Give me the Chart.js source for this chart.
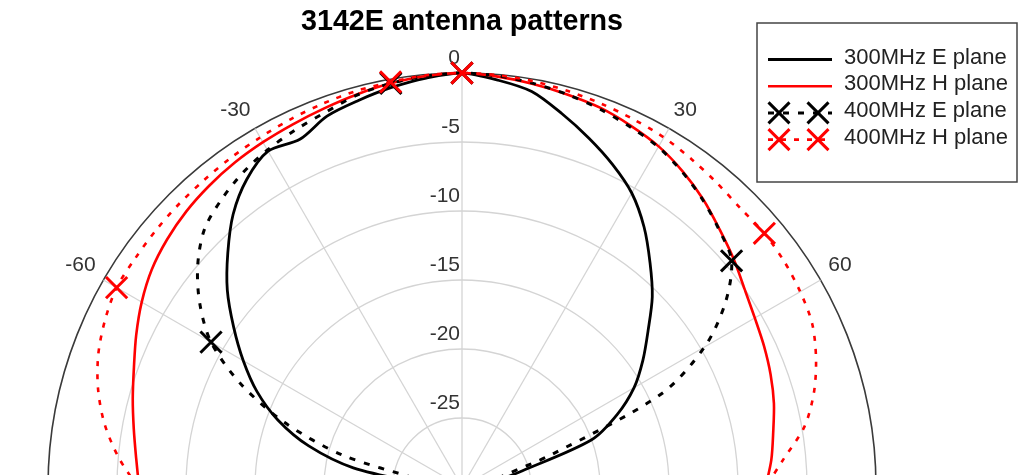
<!DOCTYPE html>
<html>
<head>
<meta charset="utf-8">
<title>3142E antenna patterns</title>
<script src="https://cdn.jsdelivr.net/npm/chart.js@4.4.0/dist/chart.umd.min.js"></script>
<style>
  html, body { margin: 0; padding: 0; background: #fff; overflow: hidden; }
  #wrap { position: relative; width: 1023px; height: 960px; }
</style>
</head>
<body>
<div id="wrap"><canvas id="chart"></canvas></div>
<script>
'use strict';

// sample angles in degrees, 0 = boresight, positive = clockwise
const angles = [-90, -85, -80, -75, -70, -65, -60, -55, -50, -45, -40, -35, -30, -25, -20, -15, -10, -5,
  0, 5, 10, 15, 20, 25, 30, 35, 40, 45, 50, 55, 60, 65, 70, 75, 80, 85, 90];

// normalised gain in dB
const e300 = [-28.5, -27, -22, -18.5, -15.8, -13.6, -11.7, -9.8, -7.8, -6.0, -4.2, -2.8, -1.9, -2.2, -1.4, -1.0, -0.6, -0.25,
  0, -0.4, -0.9, -2.0, -3.1, -4.2, -5.4, -7.0, -8.8, -10.5, -12.4, -14.0, -15.6, -17.6, -20.0, -25.5, -27.5, -28.5, -29];
const h300 = [-6.6, -6.3, -5.85, -5.3, -4.7, -3.95, -3.2, -2.55, -2.1, -1.75, -1.5, -1.3, -1.15, -1.0, -0.8, -0.55, -0.3, -0.1,
  0, -0.15, -0.35, -0.55, -0.75, -1.1, -1.5, -2.1, -2.8, -3.6, -4.3, -5.0, -5.5, -5.85, -6.2, -6.6, -7.1, -7.5, -8.0];
const e400 = [-28.5, -28, -26.8, -21.0, -16.3, -12.3, -9.0, -6.8, -5.0, -3.6, -2.85, -2.25, -1.8, -1.45, -1.1, -0.6, -0.3, -0.1,
  0, -0.1, -0.3, -0.55, -0.85, -1.2, -1.55, -2.15, -2.85, -3.65, -4.5, -6.7, -9.7, -14.1, -23.0, -27.0, -28.0, -28.5, -29.0];
const h400 = [-6.5, -5.0, -3.7, -2.7, -1.95, -1.45, -1.1, -1.1, -1.05, -1.0, -0.95, -0.85, -0.75, -0.6, -0.45, -0.3, -0.2, -0.05,
  0, -0.05, -0.15, -0.3, -0.45, -0.6, -0.75, -1.0, -1.25, -1.45, -1.4, -1.5, -1.7, -2.0, -2.7, -3.6, -4.8, -6.6, -8.0];

const markerAngles = [-60, -10, 0, 50];
const angleTicks = [-90, -60, -30, 30, 60, 90];
const seriesNames = ['300MHz E plane', '300MHz H plane', '400MHz E plane', '400MHz H plane'];

// radar needs the whole circle, so spread the half-plane samples over it
const step = angles[1] - angles[0];
const slots = 360 / step;
let ringLabels = [];
for (let i = 0; i < slots; i++) ringLabels.push(i * step);

function ringIndex(a) {
  return (((a % 360) + 360) % 360) / step;
}
function ringAngle(i) {
  let a = i * step;
  return a > 180 ? a - 360 : a;
}
function toRing(values) {
  let out = new Array(slots).fill(null);
  for (let i = 0; i < angles.length; i++) out[ringIndex(angles[i])] = values[i];
  return out;
}
function markerSize(ctx) {
  return markerAngles.includes(ringAngle(ctx.dataIndex)) ? 15 : 0;
}

const polarText = {
  id: 'polarText',
  beforeDatasetsDraw(chart) {
    const r = chart.scales.r;
    const ctx = chart.ctx;
    ctx.save();
    ctx.font = '21px "Liberation Sans", Arial, sans-serif';
    ctx.fillStyle = '#333';
    // dB labels up the boresight spoke
    ctx.textAlign = 'right';
    ctx.textBaseline = 'middle';
    r.ticks.forEach(t => {
      if (t.value <= r.min) return;
      const d = r.getDistanceFromCenterForValue(t.value);
      ctx.fillText(String(t.value), r.xCenter - 2, r.yCenter - d - 15);
    });
    // angle labels just outside the rim
    angleTicks.forEach(a => {
      const p = r.getPointPosition(ringIndex(a), r.drawingArea + 9);
      const deg = ((a % 360) + 360) % 360;
      ctx.textAlign = (deg === 0 || deg === 180) ? 'center' : (deg < 180 ? 'left' : 'right');
      ctx.textBaseline = (deg === 90 || deg === 270) ? 'middle' : ((deg < 90 || deg > 270) ? 'bottom' : 'top');
      ctx.fillText(String(a), p.x, p.y);
    });
    ctx.restore();
  }
};

const boxLegend = {
  id: 'boxLegend',
  afterDraw(chart) {
    const ctx = chart.ctx;
    ctx.save();
    ctx.fillStyle = '#fff';
    ctx.fillRect(757, 23, 260, 159);
    ctx.strokeStyle = '#444';
    ctx.lineWidth = 1.5;
    ctx.strokeRect(757, 23, 260, 159);
    ctx.font = '22px "Liberation Sans", Arial, sans-serif';
    ctx.textAlign = 'left';
    ctx.textBaseline = 'middle';
    chart.data.datasets.forEach((ds, i) => {
      const y = 57.5 + i * 26.7;
      ctx.strokeStyle = ds.borderColor;
      ctx.lineWidth = ds.borderWidth;
      ctx.setLineDash(ds.borderDash || []);
      ctx.beginPath();
      ctx.moveTo(768, y + 2);
      ctx.lineTo(832, y + 2);
      ctx.stroke();
      ctx.setLineDash([]);
      if (ds.pointStyle) {
        ctx.lineWidth = 3;
        [779, 818].forEach(mx => {
          ctx.beginPath();
          ctx.moveTo(mx - 10.5, y + 2 - 10.5);
          ctx.lineTo(mx + 10.5, y + 2 + 10.5);
          ctx.moveTo(mx - 10.5, y + 2 + 10.5);
          ctx.lineTo(mx + 10.5, y + 2 - 10.5);
          ctx.stroke();
        });
      }
      ctx.fillStyle = '#222';
      ctx.fillText(ds.label, 844, y);
    });
    ctx.restore();
  }
};

Chart.defaults.font.family = '"Liberation Sans", Arial, sans-serif';
Chart.defaults.color = '#222';

function renderChart() {
  let canvasElem = document.getElementById('chart');
  let chartObj = {
    type: 'radar',
    data: {
      labels: ringLabels,
      datasets: [{
        label: seriesNames[0],
        data: toRing(e300),
        borderColor: '#000000',
        borderWidth: 2.8,
        pointRadius: 0,
        order: 4
      },
      {
        label: seriesNames[1],
        data: toRing(h300),
        borderColor: '#ff0000',
        borderWidth: 2.6,
        pointRadius: 0,
        order: 3
      },
      {
        label: seriesNames[2],
        data: toRing(e400),
        borderColor: '#000000',
        borderWidth: 3,
        borderDash: [6, 9],
        pointStyle: 'crossRot',
        pointRadius: markerSize,
        pointHoverRadius: markerSize,
        pointBorderColor: '#000000',
        pointBorderWidth: 3,
        order: 2
      },
      {
        label: seriesNames[3],
        data: toRing(h400),
        borderColor: '#ff0000',
        borderWidth: 2.6,
        borderDash: [5, 8],
        pointStyle: 'crossRot',
        pointRadius: markerSize,
        pointHoverRadius: markerSize,
        pointBorderColor: '#ff0000',
        pointBorderWidth: 3,
        order: 1
      }]
    },
    options: {
      responsive: true,
      maintainAspectRatio: false,
      animation: false,
      layout: { padding: { left: 48, right: 147, top: 0, bottom: 58.5 } },
      elements: {
        line: { tension: 0.3, fill: false, capBezierPoints: false, backgroundColor: 'rgba(0,0,0,0)' }
      },
      plugins: {
        legend: { display: false },
        tooltip: { enabled: false },
        title: {
          display: true,
          text: '3142E antenna patterns',
          color: '#000',
          font: { size: 28.7, weight: 'bold' },
          padding: { top: 4.6, bottom: 33.96 }
        }
      },
      scales: {
        r: {
          min: -30,
          max: 0,
          startAngle: 0,
          ticks: { display: false, stepSize: 5 },
          pointLabels: { display: false },
          grid: {
            circular: true,
            color: c => c.tick && c.tick.value === 0 ? '#3a3a3a' : '#d4d4d4',
            lineWidth: c => c.tick && c.tick.value === 0 ? 1.6 : 1.3
          },
          angleLines: {
            display: true,
            color: '#d4d4d4',
            lineWidth: c => c.index % (30 / step) === 0 ? 1.3 : 0
          }
        }
      }
    },
    plugins: [polarText, boxLegend]
  };
  new Chart(canvasElem, chartObj);
}

renderChart();
</script>
</body>
</html>
